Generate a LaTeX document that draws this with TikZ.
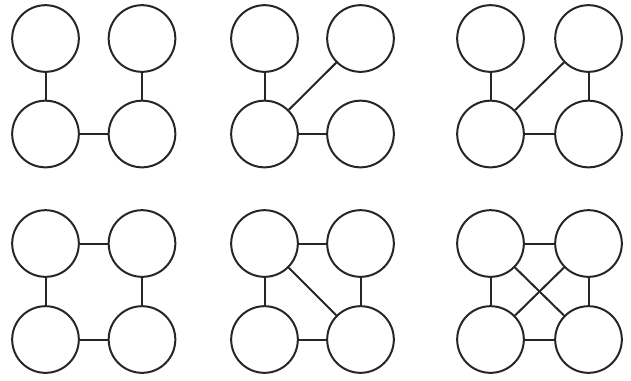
\documentclass[tikz,border=0pt]{standalone}
\begin{document}
\begin{tikzpicture}[x=0.75pt,y=-0.75pt,
  vtx/.style={circle,draw=black!85,line width=1.5pt,minimum size=50pt,inner sep=0pt,fill=white},
  edge/.style={draw=black!85,line width=1.5pt}]
\useasboundingbox (0,0) rectangle (631,380);
% graph 1
\node[vtx] (a1) at (45.5,38.5) {};
\node[vtx] (b1) at (142,38.5) {};
\node[vtx] (c1) at (45.5,134) {};
\node[vtx] (d1) at (142,134) {};
\draw[edge] (a1) -- (c1);
\draw[edge] (b1) -- (d1);
\draw[edge] (c1) -- (d1);
% graph 2
\node[vtx] (a2) at (264.5,38.5) {};
\node[vtx] (b2) at (360.5,38.5) {};
\node[vtx] (c2) at (264.5,134) {};
\node[vtx] (d2) at (360.5,134) {};
\draw[edge] (a2) -- (c2);
\draw[edge] (c2) -- (b2);
\draw[edge] (c2) -- (d2);
% graph 3
\node[vtx] (a3) at (490.5,38.5) {};
\node[vtx] (b3) at (588.5,38.5) {};
\node[vtx] (c3) at (490.5,134) {};
\node[vtx] (d3) at (588.5,134) {};
\draw[edge] (a3) -- (c3);
\draw[edge] (c3) -- (b3);
\draw[edge] (c3) -- (d3);
\draw[edge] (b3) -- (d3);
% graph 4
\node[vtx] (a4) at (45.5,243.5) {};
\node[vtx] (b4) at (142,243.5) {};
\node[vtx] (c4) at (45.5,339.5) {};
\node[vtx] (d4) at (142,339.5) {};
\draw[edge] (a4) -- (b4);
\draw[edge] (a4) -- (c4);
\draw[edge] (b4) -- (d4);
\draw[edge] (c4) -- (d4);
% graph 5
\node[vtx] (a5) at (264.5,243.5) {};
\node[vtx] (b5) at (360.5,243.5) {};
\node[vtx] (c5) at (264.5,339.5) {};
\node[vtx] (d5) at (360.5,339.5) {};
\draw[edge] (a5) -- (b5);
\draw[edge] (a5) -- (c5);
\draw[edge] (a5) -- (d5);
\draw[edge] (b5) -- (d5);
\draw[edge] (c5) -- (d5);
% graph 6
\node[vtx] (a6) at (490.5,243.5) {};
\node[vtx] (b6) at (588.5,243.5) {};
\node[vtx] (c6) at (490.5,339.5) {};
\node[vtx] (d6) at (588.5,339.5) {};
\draw[edge] (a6) -- (b6);
\draw[edge] (a6) -- (c6);
\draw[edge] (a6) -- (d6);
\draw[edge] (b6) -- (c6);
\draw[edge] (b6) -- (d6);
\draw[edge] (c6) -- (d6);
\end{tikzpicture}
\end{document}
